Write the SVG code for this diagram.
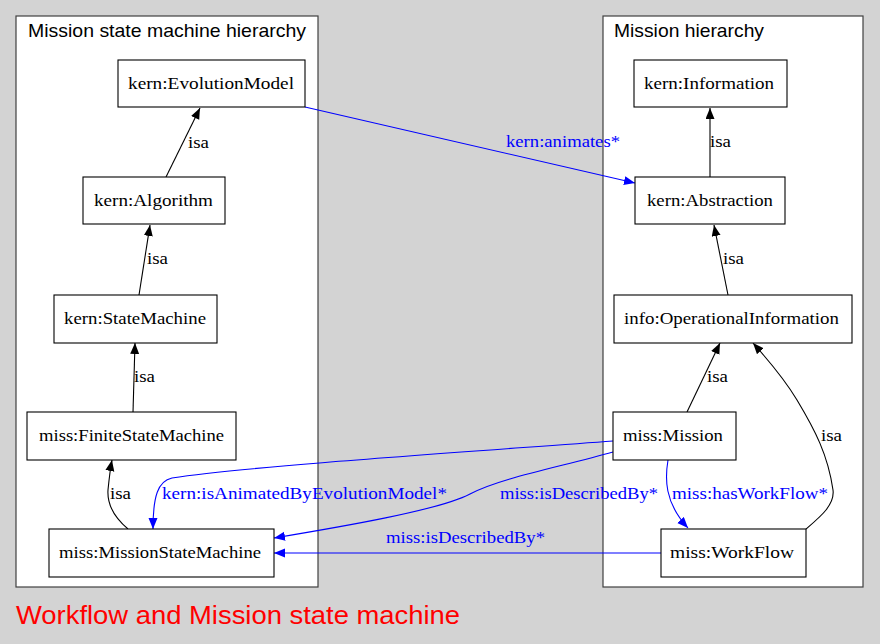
<svg xmlns="http://www.w3.org/2000/svg" width="880" height="644" viewBox="0 0 880 644">
<style>
.bg{fill:#d3d3d3}
.cl{fill:#ffffff;stroke:#404040;stroke-width:1.2}
.nd{fill:#ffffff;stroke:#000000;stroke-width:1.1}
.nt{font-family:"Liberation Serif","Times New Roman",serif;font-size:17px;fill:#000}
.ct{font-family:"Liberation Sans",Arial,sans-serif;font-size:18.5px;fill:#000}
.isa{fill:none;stroke:#000;stroke-width:1.1}
.rel{fill:none;stroke:#0000ff;stroke-width:1.1}
.il{font-family:"Liberation Serif","Times New Roman",serif;font-size:17px;fill:#000}
.bl{font-family:"Liberation Serif","Times New Roman",serif;font-size:17px;fill:#0000ff}
.ttl{font-family:"Liberation Sans",Arial,sans-serif;font-size:25px;fill:#ff0000}
</style>
<defs>
<marker id="ab" markerUnits="userSpaceOnUse" markerWidth="12" markerHeight="10" refX="11" refY="4.5" orient="auto"><path d="M0,0 L11,4.5 L0,9 z" fill="#000"/></marker>
<marker id="ablue" markerUnits="userSpaceOnUse" markerWidth="12" markerHeight="10" refX="11" refY="4.5" orient="auto"><path d="M0,0 L11,4.5 L0,9 z" fill="#0000ff"/></marker>
</defs>
<rect class="bg" x="0" y="0" width="880" height="644"/>
<g id="cluster_left">
<rect class="cl" x="16" y="16" width="302" height="571"/>
<text class="ct" x="28" y="37" textLength="278" lengthAdjust="spacingAndGlyphs">Mission state machine hierarchy</text>
</g>
<g id="cluster_right">
<rect class="cl" x="603" y="16" width="260" height="571"/>
<text class="ct" x="614" y="37" textLength="150" lengthAdjust="spacingAndGlyphs">Mission hierarchy</text>
</g>
<g id="connectors">
<path class="isa" d="M166,177 L200,108" marker-end="url(#ab)"/>
<text class="il" x="188" y="148" textLength="21" lengthAdjust="spacingAndGlyphs">isa</text>
<path class="isa" d="M139,295 L150,225" marker-end="url(#ab)"/>
<text class="il" x="147" y="264" textLength="21" lengthAdjust="spacingAndGlyphs">isa</text>
<path class="isa" d="M133,412 L135,343" marker-end="url(#ab)"/>
<text class="il" x="134" y="382" textLength="21" lengthAdjust="spacingAndGlyphs">isa</text>
<path class="isa" d="M128,529 C115,518 107,505 108,490 C109,480 110,470 112,460" marker-end="url(#ab)"/>
<text class="il" x="110" y="499" textLength="21" lengthAdjust="spacingAndGlyphs">isa</text>
<path class="isa" d="M710,177 L710,108" marker-end="url(#ab)"/>
<text class="il" x="710" y="147" textLength="21" lengthAdjust="spacingAndGlyphs">isa</text>
<path class="isa" d="M728,295 L714,225" marker-end="url(#ab)"/>
<text class="il" x="723" y="264" textLength="21" lengthAdjust="spacingAndGlyphs">isa</text>
<path class="isa" d="M687,412 L720,343" marker-end="url(#ab)"/>
<text class="il" x="707" y="382" textLength="21" lengthAdjust="spacingAndGlyphs">isa</text>
<path class="isa" d="M806,529 C820,517 835,505 833,490 C828,455 815,430 797,400 C785,380 770,362 753,343" marker-end="url(#ab)"/>
<text class="il" x="821" y="441" textLength="21" lengthAdjust="spacingAndGlyphs">isa</text>
<path class="rel" d="M305,107 L635,183" marker-end="url(#ablue)"/>
<text class="bl" x="506" y="147" textLength="114" lengthAdjust="spacingAndGlyphs">kern:animates*</text>
<path class="rel" d="M613,441 C480,451 250,466 172,478 C158,481 153,496 153,529" marker-end="url(#ablue)"/>
<text class="bl" x="162" y="499" textLength="285" lengthAdjust="spacingAndGlyphs">kern:isAnimatedByEvolutionModel*</text>
<path class="rel" d="M613,452 C560,467 500,478 470,494 C440,510 340,527 274,538" marker-end="url(#ablue)"/>
<text class="bl" x="500" y="499" textLength="158" lengthAdjust="spacingAndGlyphs">miss:isDescribedBy*</text>
<path class="rel" d="M661,553 L274,553" marker-end="url(#ablue)"/>
<text class="bl" x="386" y="543" textLength="159" lengthAdjust="spacingAndGlyphs">miss:isDescribedBy*</text>
<path class="rel" d="M668,460 C665,478 664,502 688,528" marker-end="url(#ablue)"/>
<text class="bl" x="672" y="499" textLength="156" lengthAdjust="spacingAndGlyphs">miss:hasWorkFlow*</text>
</g>
<g id="n_EvolutionModel"><rect class="nd" x="118" y="60" width="187" height="47"/><text class="nt" x="128" y="89" textLength="166" lengthAdjust="spacingAndGlyphs">kern:EvolutionModel</text></g>
<g id="n_Algorithm"><rect class="nd" x="83" y="177" width="142" height="47"/><text class="nt" x="94" y="206" textLength="119" lengthAdjust="spacingAndGlyphs">kern:Algorithm</text></g>
<g id="n_StateMachine"><rect class="nd" x="54" y="295" width="163" height="48"/><text class="nt" x="64" y="324" textLength="142" lengthAdjust="spacingAndGlyphs">kern:StateMachine</text></g>
<g id="n_FiniteStateMachine"><rect class="nd" x="27" y="412" width="209" height="48"/><text class="nt" x="39" y="441" textLength="185" lengthAdjust="spacingAndGlyphs">miss:FiniteStateMachine</text></g>
<g id="n_MissionStateMachine"><rect class="nd" x="49" y="529" width="225" height="48"/><text class="nt" x="59" y="558" textLength="202" lengthAdjust="spacingAndGlyphs">miss:MissionStateMachine</text></g>
<g id="n_Information"><rect class="nd" x="634" y="60" width="153" height="47"/><text class="nt" x="644" y="89" textLength="130" lengthAdjust="spacingAndGlyphs">kern:Information</text></g>
<g id="n_Abstraction"><rect class="nd" x="635" y="177" width="150" height="47"/><text class="nt" x="647" y="206" textLength="126" lengthAdjust="spacingAndGlyphs">kern:Abstraction</text></g>
<g id="n_OperationalInformation"><rect class="nd" x="614" y="295" width="238" height="48"/><text class="nt" x="624" y="324" textLength="215" lengthAdjust="spacingAndGlyphs">info:OperationalInformation</text></g>
<g id="n_Mission"><rect class="nd" x="613" y="412" width="123" height="48"/><text class="nt" x="623" y="441" textLength="100" lengthAdjust="spacingAndGlyphs">miss:Mission</text></g>
<g id="n_WorkFlow"><rect class="nd" x="661" y="529" width="145" height="48"/><text class="nt" x="670" y="558" textLength="124" lengthAdjust="spacingAndGlyphs">miss:WorkFlow</text></g>
<text class="ttl" x="16" y="624" textLength="444" lengthAdjust="spacingAndGlyphs">Workflow and Mission state machine</text>
</svg>
